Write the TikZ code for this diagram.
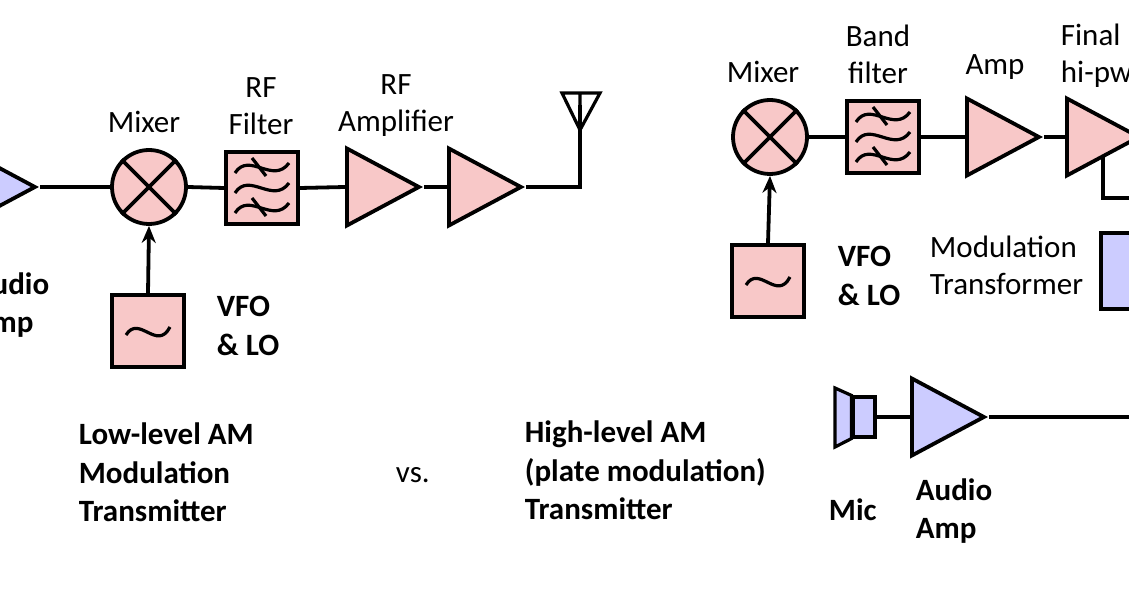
\documentclass[tikz,border=0pt]{standalone}
\usepackage{fontspec}
\setmainfont{Carlito}
\usetikzlibrary{shapes.geometric,arrows.meta,calc}
\definecolor{pk}{HTML}{F8C8C8}
\definecolor{pu}{HTML}{CCCCFF}
\begin{document}
\begin{tikzpicture}[x=1pt,y=-1pt,line width=3.8pt,
  amp/.style={isosceles triangle,isosceles triangle stretches,draw,minimum height=72pt,minimum width=77pt,inner sep=0pt,line join=miter,anchor=west},
  mix/.style={circle,draw,fill=pk,minimum size=74pt,inner sep=0pt},
  blk/.style={rectangle,draw,fill=pk,minimum width=72pt,minimum height=72pt,inner sep=0pt},
  lbl/.style={font=\fontsize{31}{37}\selectfont,align=center,inner sep=0pt},
  blbl/.style={font=\fontsize{31}{38.5}\selectfont\bfseries,align=left,inner sep=0pt},
  arr/.style={-{Stealth[length=17pt,width=14pt]}}]
\useasboundingbox (0,0) rectangle (1129,593);
\newcommand\mixcross[1]{\draw (#1.north west) -- (#1.south east) (#1.north east) -- (#1.south west);}
\newcommand\filt[1]{\foreach \dy in {-20,0,20}{\draw[line width=3.2pt] ($(#1)+(-27,\dy+5)$) .. controls ($(#1)+(-13,\dy-17)$) and ($(#1)+(11,\dy+17)$) .. ($(#1)+(27,\dy-5)$);}
  \draw[line width=3.2pt] ($(#1)+(-10,-30)$) -- ($(#1)+(4,-12)$) ($(#1)+(-10,10)$) -- ($(#1)+(4,28)$);}
\newcommand\osc[1]{\draw[line width=3.2pt] ($(#1)+(-22,4)$) .. controls ($(#1)+(-9,-17)$) and ($(#1)+(9,21)$) .. ($(#1)+(22,-4)$);}
% ---------- left ----------
\node[amp,fill=pu] (a0) at (-39,187) {};
\node[mix] (m1) at (149,187) {};
\mixcross{m1}
\node[blk] (f1) at (262,188) {};
\node[amp,fill=pk] (r1) at (345,187) {};
\node[amp,fill=pk] (r2) at (447,187) {};
\node[blk] (v1) at (148,331) {};
\coordinate (an1) at (580,187);
\coordinate (at1) at (580,105);
\draw (a0.apex) -- (m1.west);
\draw (m1.east) -- (f1.west);
\draw (f1.east) -- (r1.west);
\draw (r1.apex) -- (r2.west);
\draw (r2.apex) -- (an1) -- (at1);
\draw[line width=3.2pt] (580,130) -- (562,93) -- (600,93) -- cycle (580,93) -- (580,130);
\draw[arr] (v1.north) -- (m1.south);
\filt{f1}
\osc{v1}
\node[lbl] (t1) at (144,122) {Mixer};
\node[lbl] (t2) at (261,106) {RF\\Filter};
\node[lbl] (t3) at (396,106) {RF\\Amplifier};
\node[blbl,anchor=west] (t4) at (-29,305) {Audio\\Amp};
\node[blbl,anchor=west] (t5) at (215,326) {VFO\\\& LO};
\node[blbl,anchor=north west] (t6) at (77,421) {Low-level AM\\Modulation\\Transmitter};
\node[lbl,anchor=west] (t7) at (394,475) {vs.};
\node[blbl,anchor=north west] (t8) at (523,419) {High-level AM\\(plate modulation)\\Transmitter};
% ---------- right ----------
\node[mix] (m2) at (770,137) {};
\mixcross{m2}
\node[blk] (f2) at (883,137) {};
\node[amp,fill=pk] (p1) at (965,137) {};
\node[amp,fill=pk] (p2) at (1065,137) {};
\node[blk] (v2) at (768,281) {};
\node[rectangle,draw,fill=pu,minimum width=72pt,minimum height=76pt] (mt) at (1137,271) {};
\coordinate (c1) at (1103,198);
\coordinate (c2) at (1135,198);
\draw (m2.east) -- (f2.west);
\draw (f2.east) -- (p1.west);
\draw (p1.apex) -- (p2.west);
\draw (1103,156) -- (c1) -- (c2);
\draw[arr] (v2.north) -- (m2.south);
\filt{f2}
\osc{v2}
\node[lbl] (s1) at (763,72) {Mixer};
\node[lbl] (s2) at (878,54) {Band\\filter};
\node[lbl] (s3) at (995,67) {Amp};
\node[lbl,align=left,anchor=west] (s4) at (1059,56) {Final\\hi-pwr};
\node[lbl,align=left,anchor=west] (s5) at (928,265) {Modulation\\Transformer};
\node[blbl,anchor=west] (s6) at (836,276) {VFO\\\& LO};
% mic + audio amp
\node[rectangle,draw,fill=pu,line width=3.2pt,minimum width=22pt,minimum height=40pt,inner sep=0pt] (mic) at (864,417) {};
\draw[fill=pu,line width=3.2pt] (mic.north west) -- (835,388) -- (835,447) -- (mic.south west) -- cycle;
\node[amp,fill=pu] (aa) at (910,417) {};
\coordinate (e1) at (1135,417);
\draw (mic.east) -- (aa.west);
\draw (aa.apex) -- (e1);
\node[blbl,anchor=west] (s7) at (827,510) {Mic};
\node[blbl,anchor=west] (s8) at (914,511) {Audio\\Amp};
\end{tikzpicture}
\end{document}
